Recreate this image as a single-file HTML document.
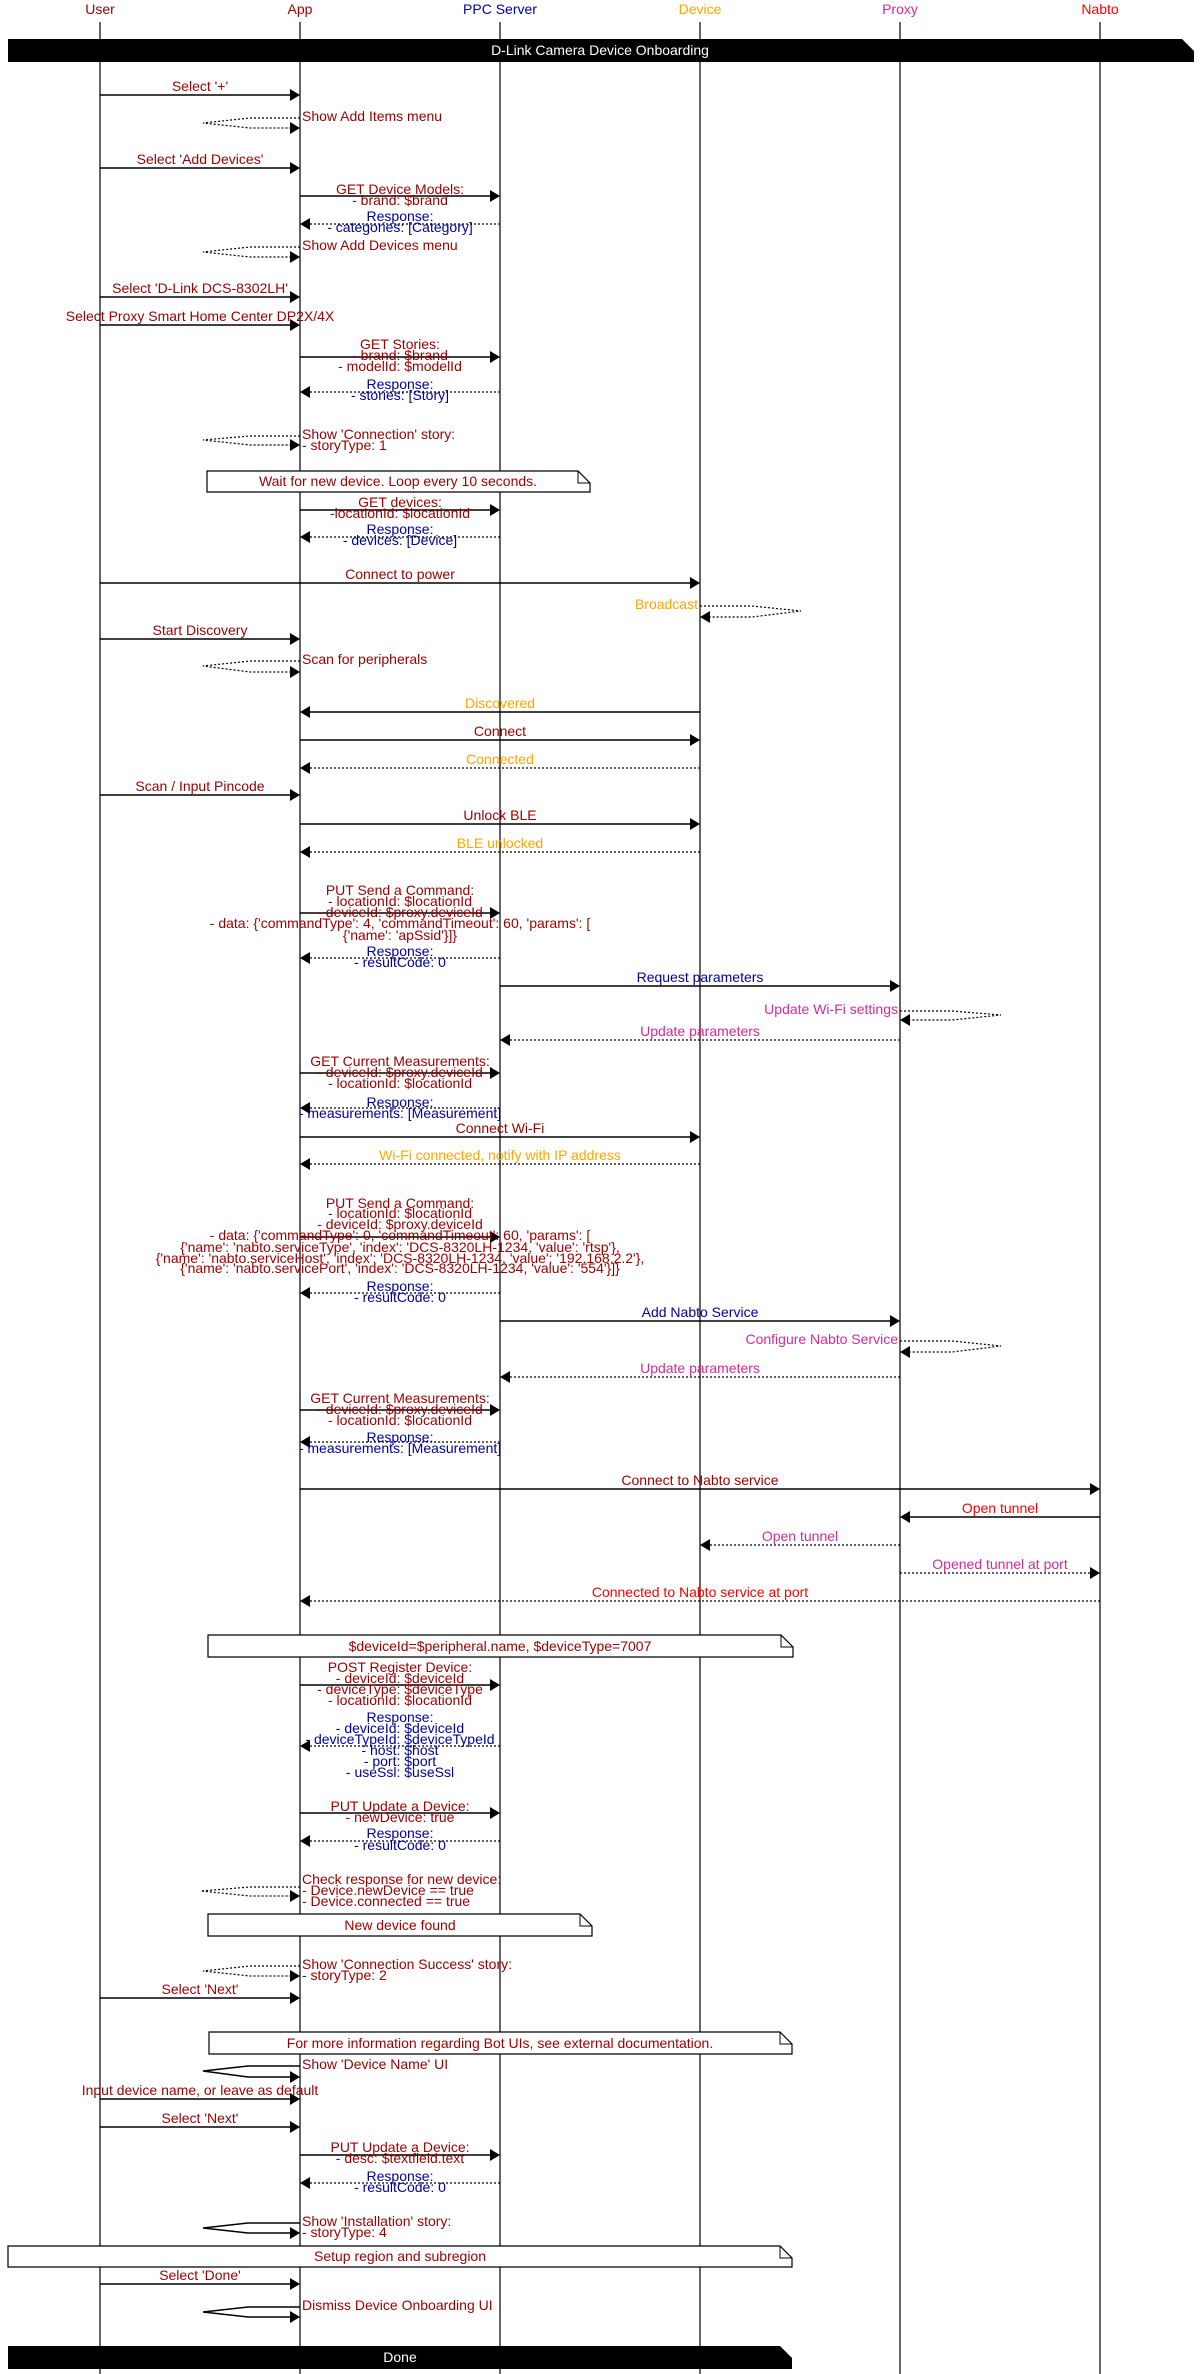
<!DOCTYPE html>
<html><head><meta charset="utf-8"><style>
html,body{margin:0;padding:0;background:#fff}
svg{display:block}
text{font-family:"Liberation Sans",sans-serif;font-size:14px}
.m{text-anchor:middle}.e{text-anchor:end}
.R{fill:#990000}.N{fill:#000099}.O{fill:#ffa500}.P{fill:#d42a9b}.X{fill:#ff0000}.W{fill:#fff}
.s{stroke:#000;stroke-width:1.5;fill:none}
.d{stroke:#000;stroke-width:1.2;fill:none;stroke-dasharray:2,2}
.n{stroke:#000;stroke-width:1.2;fill:#fff}
</style></head><body>
<svg width="1200" height="2374" xmlns="http://www.w3.org/2000/svg">
<!-- headers -->
<text class="m R" x="100" y="14">User</text>
<text class="m R" x="300" y="14">App</text>
<text class="m N" x="500" y="14">PPC Server</text>
<text class="m O" x="700" y="14">Device</text>
<text class="m P" x="900" y="14">Proxy</text>
<text class="m X" x="1100" y="14">Nabto</text>
<g stroke="#000" stroke-width="1.2">
<line x1="100" y1="22" x2="100" y2="2374"/><line x1="300" y1="22" x2="300" y2="2374"/>
<line x1="500" y1="22" x2="500" y2="2374"/><line x1="700" y1="22" x2="700" y2="2374"/>
<line x1="900" y1="22" x2="900" y2="2374"/><line x1="1100" y1="22" x2="1100" y2="2374"/>
</g>
<polygon points="8,39 1182,39 1194,51 1194,62 8,62" fill="#000"/>
<text class="m W" x="600" y="55">D-Link Camera Device Onboarding</text>

<!-- 1 -->
<line class="s" x1="100" y1="95" x2="292" y2="95"/><polygon points="290,89 300,95 290,101"/>
<text class="m R" x="200" y="91">Select '+'</text>
<!-- 2 self -->
<path class="d" d="M300,118 H250 L203,123 L250,128 H292"/><polygon points="290,122 300,128 290,134"/>
<text class="R" x="302" y="121">Show Add Items menu</text>
<!-- 3 -->
<line class="s" x1="100" y1="168" x2="292" y2="168"/><polygon points="290,162 300,168 290,174"/>
<text class="m R" x="200" y="164">Select 'Add Devices'</text>
<!-- 4 -->
<line class="s" x1="300" y1="196" x2="492" y2="196"/><polygon points="490,190 500,196 490,202"/>
<text class="m R" x="400" y="194">GET Device Models:</text><text class="m R" x="400" y="205">- brand: $brand</text>
<!-- 5 -->
<line class="d" x1="500" y1="224" x2="308" y2="224"/><polygon points="310,218 300,224 310,230"/>
<text class="m N" x="400" y="221">Response:</text><text class="m N" x="400" y="232">- categories: [Category]</text>
<!-- 6 -->
<path class="d" d="M300,247 H250 L203,252 L250,257 H292"/><polygon points="290,251 300,257 290,263"/>
<text class="R" x="302" y="250">Show Add Devices menu</text>
<!-- 7 -->
<line class="s" x1="100" y1="297" x2="292" y2="297"/><polygon points="290,291 300,297 290,303"/>
<text class="m R" x="200" y="293">Select 'D-Link DCS-8302LH'</text>
<!-- 8 -->
<line class="s" x1="100" y1="325" x2="292" y2="325"/><polygon points="290,319 300,325 290,331"/>
<text class="m R" x="200" y="321">Select Proxy Smart Home Center DP2X/4X</text>
<!-- 9 -->
<line class="s" x1="300" y1="357" x2="492" y2="357"/><polygon points="490,351 500,357 490,363"/>
<text class="m R" x="400" y="349">GET Stories:</text><text class="m R" x="400" y="360">- brand: $brand</text><text class="m R" x="400" y="371">- modelId: $modelId</text>
<!-- 10 -->
<line class="d" x1="500" y1="392" x2="308" y2="392"/><polygon points="310,386 300,392 310,398"/>
<text class="m N" x="400" y="389">Response:</text><text class="m N" x="400" y="400">- stories: [Story]</text>
<!-- 11 -->
<path class="d" d="M300,436 H250 L203,440 L250,445 H292"/><polygon points="290,439 300,445 290,451"/>
<text class="R" x="302" y="439">Show 'Connection' story:</text><text class="R" x="302" y="450">- storyType: 1</text>
<!-- 12 note -->
<path class="n" d="M207,471 H578 L590,483 V492 H207 Z"/><path class="s" style="stroke-width:1" d="M578,471 V483 H590"/>
<text class="m R" x="398" y="486">Wait for new device. Loop every 10 seconds.</text>
<!-- 13 -->
<line class="s" x1="300" y1="510" x2="492" y2="510"/><polygon points="490,504 500,510 490,516"/>
<text class="m R" x="400" y="507">GET devices:</text><text class="m R" x="400" y="518">-locationId: $locationId</text>
<!-- 14 -->
<line class="d" x1="500" y1="537" x2="308" y2="537"/><polygon points="310,531 300,537 310,543"/>
<text class="m N" x="400" y="534">Response:</text><text class="m N" x="400" y="545">- devices: [Device]</text>
<!-- 15 -->
<line class="s" x1="100" y1="583" x2="692" y2="583"/><polygon points="690,577 700,583 690,589"/>
<text class="m R" x="400" y="579">Connect to power</text>
<!-- 16 -->
<path class="d" d="M700,606 H752 L801,611 L752,617 H708"/><polygon points="710,611 700,617 710,623"/>
<text class="e O" x="698" y="609">Broadcast</text>
<!-- 17 -->
<line class="s" x1="100" y1="639" x2="292" y2="639"/><polygon points="290,633 300,639 290,645"/>
<text class="m R" x="200" y="635">Start Discovery</text>
<!-- 18 -->
<path class="d" d="M300,661 H250 L203,666 L250,672 H292"/><polygon points="290,666 300,672 290,678"/>
<text class="R" x="302" y="664">Scan for peripherals</text>
<!-- 19 -->
<line class="s" x1="700" y1="712" x2="308" y2="712"/><polygon points="310,706 300,712 310,718"/>
<text class="m O" x="500" y="708">Discovered</text>
<!-- 20 -->
<line class="s" x1="300" y1="740" x2="692" y2="740"/><polygon points="690,734 700,740 690,746"/>
<text class="m R" x="500" y="736">Connect</text>
<!-- 21 -->
<line class="d" x1="700" y1="768" x2="308" y2="768"/><polygon points="310,762 300,768 310,774"/>
<text class="m O" x="500" y="764">Connected</text>
<!-- 22 -->
<line class="s" x1="100" y1="795" x2="292" y2="795"/><polygon points="290,789 300,795 290,801"/>
<text class="m R" x="200" y="791">Scan / Input Pincode</text>
<!-- 23 -->
<line class="s" x1="300" y1="824" x2="692" y2="824"/><polygon points="690,818 700,824 690,830"/>
<text class="m R" x="500" y="820">Unlock BLE</text>
<!-- 24 -->
<line class="d" x1="700" y1="852" x2="308" y2="852"/><polygon points="310,846 300,852 310,858"/>
<text class="m O" x="500" y="848">BLE unlocked</text>
<!-- 25 -->
<line class="s" x1="300" y1="913" x2="492" y2="913"/><polygon points="490,907 500,913 490,919"/>
<text class="m R" x="400" y="895">PUT Send a Command:</text>
<text class="m R" x="400" y="906">- locationId: $locationId</text>
<text class="m R" x="400" y="917">- deviceId: $proxy.deviceId</text>
<text class="m R" x="400" y="928">- data: {'commandType': 4, 'commandTimeout': 60, 'params': [</text>
<text class="m R" x="400" y="940">{'name': 'apSsid'}]}</text>
<!-- 26 -->
<line class="d" x1="500" y1="958" x2="308" y2="958"/><polygon points="310,952 300,958 310,964"/>
<text class="m N" x="400" y="956">Response:</text><text class="m N" x="400" y="967">- resultCode: 0</text>
<!-- 27 -->
<line class="s" x1="500" y1="986" x2="892" y2="986"/><polygon points="890,980 900,986 890,992"/>
<text class="m N" x="700" y="982">Request parameters</text>
<!-- 28 -->
<path class="d" d="M900,1011 H952 L1001,1015 L952,1020 H908"/><polygon points="910,1014 900,1020 910,1026"/>
<text class="e P" x="898" y="1014">Update Wi-Fi settings</text>
<!-- 29 -->
<line class="d" x1="900" y1="1040" x2="508" y2="1040"/><polygon points="510,1034 500,1040 510,1046"/>
<text class="m P" x="700" y="1036">Update parameters</text>
<!-- 30 -->
<line class="s" x1="300" y1="1073" x2="492" y2="1073"/><polygon points="490,1067 500,1073 490,1079"/>
<text class="m R" x="400" y="1066">GET Current Measurements:</text><text class="m R" x="400" y="1077">- deviceId: $proxy.deviceId</text><text class="m R" x="400" y="1088">- locationId: $locationId</text>
<!-- 31 -->
<line class="d" x1="500" y1="1108" x2="308" y2="1108"/><polygon points="310,1102 300,1108 310,1114"/>
<text class="m N" x="400" y="1107">Response:</text><text class="m N" x="400" y="1118">- measurements: [Measurement]</text>
<!-- 32 -->
<line class="s" x1="300" y1="1137" x2="692" y2="1137"/><polygon points="690,1131 700,1137 690,1143"/>
<text class="m R" x="500" y="1133">Connect Wi-Fi</text>
<!-- 33 -->
<line class="d" x1="700" y1="1164" x2="308" y2="1164"/><polygon points="310,1158 300,1164 310,1170"/>
<text class="m O" x="500" y="1160">Wi-Fi connected, notify with IP address</text>
<!-- 34 -->
<line class="s" x1="300" y1="1237" x2="492" y2="1237"/><polygon points="490,1231 500,1237 490,1243"/>
<text class="m R" x="400" y="1208">PUT Send a Command:</text>
<text class="m R" x="400" y="1218">- locationId: $locationId</text>
<text class="m R" x="400" y="1229">- deviceId: $proxy.deviceId</text>
<text class="m R" x="400" y="1240">- data: {'commandType': 0, 'commandTimeout': 60, 'params': [</text>
<text class="m R" x="400" y="1252">{'name': 'nabto.serviceType', 'index': 'DCS-8320LH-1234, 'value': 'rtsp'},</text>
<text class="m R" x="400" y="1263">{'name': 'nabto.serviceHost', 'index': 'DCS-8320LH-1234, 'value': '192.168.2.2'},</text>
<text class="m R" x="400" y="1273">{'name': 'nabto.servicePort', 'index': 'DCS-8320LH-1234, 'value': '554'}]}</text>
<!-- 35 -->
<line class="d" x1="500" y1="1293" x2="308" y2="1293"/><polygon points="310,1287 300,1293 310,1299"/>
<text class="m N" x="400" y="1291">Response:</text><text class="m N" x="400" y="1302">- resultCode: 0</text>
<!-- 36 -->
<line class="s" x1="500" y1="1321" x2="892" y2="1321"/><polygon points="890,1315 900,1321 890,1327"/>
<text class="m N" x="700" y="1317">Add Nabto Service</text>
<!-- 37 -->
<path class="d" d="M900,1341 H952 L1001,1346 L952,1352 H908"/><polygon points="910,1346 900,1352 910,1358"/>
<text class="e P" x="898" y="1344">Configure Nabto Service</text>
<!-- 38 -->
<line class="d" x1="900" y1="1377" x2="508" y2="1377"/><polygon points="510,1371 500,1377 510,1383"/>
<text class="m P" x="700" y="1373">Update parameters</text>
<!-- 39 -->
<line class="s" x1="300" y1="1410" x2="492" y2="1410"/><polygon points="490,1404 500,1410 490,1416"/>
<text class="m R" x="400" y="1403">GET Current Measurements:</text><text class="m R" x="400" y="1414">- deviceId: $proxy.deviceId</text><text class="m R" x="400" y="1425">- locationId: $locationId</text>
<!-- 40 -->
<line class="d" x1="500" y1="1442" x2="308" y2="1442"/><polygon points="310,1436 300,1442 310,1448"/>
<text class="m N" x="400" y="1442">Response:</text><text class="m N" x="400" y="1453">- measurements: [Measurement]</text>
<!-- 41 -->
<line class="s" x1="300" y1="1489" x2="1092" y2="1489"/><polygon points="1090,1483 1100,1489 1090,1495"/>
<text class="m R" x="700" y="1485">Connect to Nabto service</text>
<!-- 42 -->
<line class="s" x1="1100" y1="1517" x2="908" y2="1517"/><polygon points="910,1511 900,1517 910,1523"/>
<text class="m X" x="1000" y="1513">Open tunnel</text>
<!-- 43 -->
<line class="d" x1="900" y1="1545" x2="708" y2="1545"/><polygon points="710,1539 700,1545 710,1551"/>
<text class="m P" x="800" y="1541">Open tunnel</text>
<!-- 44 -->
<line class="d" x1="900" y1="1573" x2="1092" y2="1573"/><polygon points="1090,1567 1100,1573 1090,1579"/>
<text class="m P" x="1000" y="1569">Opened tunnel at port</text>
<!-- 45 -->
<line class="d" x1="1100" y1="1601" x2="308" y2="1601"/><polygon points="310,1595 300,1601 310,1607"/>
<text class="m X" x="700" y="1597">Connected to Nabto service at port</text>
<!-- 46 note -->
<path class="n" d="M208,1635 H781 L793,1647 V1657 H208 Z"/><path class="s" style="stroke-width:1" d="M781,1635 V1647 H793"/>
<text class="m R" x="500" y="1651">$deviceId=$peripheral.name, $deviceType=7007</text>
<!-- 47 -->
<line class="s" x1="300" y1="1685" x2="492" y2="1685"/><polygon points="490,1679 500,1685 490,1691"/>
<text class="m R" x="400" y="1672">POST Register Device:</text><text class="m R" x="400" y="1683">- deviceId: $deviceId</text><text class="m R" x="400" y="1694">- deviceType: $deviceType</text><text class="m R" x="400" y="1705">- locationId: $locationId</text>
<!-- 48 -->
<line class="d" x1="500" y1="1746" x2="308" y2="1746"/><polygon points="310,1740 300,1746 310,1752"/>
<text class="m N" x="400" y="1722">Response:</text><text class="m N" x="400" y="1733">- deviceId: $deviceId</text><text class="m N" x="400" y="1744">- deviceTypeId: $deviceTypeId</text><text class="m N" x="400" y="1755">- host: $host</text><text class="m N" x="400" y="1766">- port: $port</text><text class="m N" x="400" y="1777">- useSsl: $useSsl</text>
<!-- 49 -->
<line class="s" x1="300" y1="1813" x2="492" y2="1813"/><polygon points="490,1807 500,1813 490,1819"/>
<text class="m R" x="400" y="1811">PUT Update a Device:</text><text class="m R" x="400" y="1822">- newDevice: true</text>
<!-- 50 -->
<line class="d" x1="500" y1="1841" x2="308" y2="1841"/><polygon points="310,1835 300,1841 310,1847"/>
<text class="m N" x="400" y="1838">Response:</text><text class="m N" x="400" y="1850">- resultCode: 0</text>
<!-- 51 -->
<path class="d" d="M300,1887 H250 L201,1891 L250,1896 H292"/><polygon points="290,1890 300,1896 290,1902"/>
<text class="R" x="302" y="1884">Check response for new device:</text><text class="R" x="302" y="1895">- Device.newDevice == true</text><text class="R" x="302" y="1906">- Device.connected == true</text>
<!-- 52 note -->
<path class="n" d="M208,1914 H580 L592,1926 V1936 H208 Z"/><path class="s" style="stroke-width:1" d="M580,1914 V1926 H592"/>
<text class="m R" x="400" y="1930">New device found</text>
<!-- 53 -->
<path class="d" d="M300,1966 H250 L203,1971 L250,1976 H292"/><polygon points="290,1970 300,1976 290,1982"/>
<text class="R" x="302" y="1969">Show 'Connection Success' story:</text><text class="R" x="302" y="1980">- storyType: 2</text>
<!-- 54 -->
<line class="s" x1="100" y1="1998" x2="292" y2="1998"/><polygon points="290,1992 300,1998 290,2004"/>
<text class="m R" x="200" y="1994">Select 'Next'</text>
<!-- 55 note -->
<path class="n" d="M209,2032 H780 L792,2044 V2054 H209 Z"/><path class="s" style="stroke-width:1" d="M780,2032 V2044 H792"/>
<text class="m R" x="500" y="2048">For more information regarding Bot UIs, see external documentation.</text>
<!-- 56 -->
<path class="s" d="M300,2066 H248 L203,2071 L248,2077 H292"/><polygon points="290,2071 300,2077 290,2083"/>
<text class="R" x="302" y="2069">Show 'Device Name' UI</text>
<!-- 57 -->
<line class="s" x1="100" y1="2099" x2="292" y2="2099"/><polygon points="290,2093 300,2099 290,2105"/>
<text class="m R" x="200" y="2095">Input device name, or leave as default</text>
<!-- 58 -->
<line class="s" x1="100" y1="2127" x2="292" y2="2127"/><polygon points="290,2121 300,2127 290,2133"/>
<text class="m R" x="200" y="2123">Select 'Next'</text>
<!-- 59 -->
<line class="s" x1="300" y1="2155" x2="492" y2="2155"/><polygon points="490,2149 500,2155 490,2161"/>
<text class="m R" x="400" y="2152">PUT Update a Device:</text><text class="m R" x="400" y="2163">- desc: $textfield.text</text>
<!-- 60 -->
<line class="d" x1="500" y1="2183" x2="308" y2="2183"/><polygon points="310,2177 300,2183 310,2189"/>
<text class="m N" x="400" y="2181">Response:</text><text class="m N" x="400" y="2192">- resultCode: 0</text>
<!-- 61 -->
<path class="s" d="M300,2223 H248 L203,2228 L248,2233 H292"/><polygon points="290,2227 300,2233 290,2239"/>
<text class="R" x="302" y="2226">Show 'Installation' story:</text><text class="R" x="302" y="2237">- storyType: 4</text>
<!-- 62 note -->
<path class="n" d="M8,2246 H780 L792,2258 V2267 H8 Z"/><path class="s" style="stroke-width:1" d="M780,2246 V2258 H792"/>
<text class="m R" x="400" y="2261">Setup region and subregion</text>
<!-- 63 -->
<line class="s" x1="100" y1="2284" x2="292" y2="2284"/><polygon points="290,2278 300,2284 290,2290"/>
<text class="m R" x="200" y="2280">Select 'Done'</text>
<!-- 64 -->
<path class="s" d="M300,2307 H248 L203,2312 L248,2317 H292"/><polygon points="290,2311 300,2317 290,2323"/>
<text class="R" x="302" y="2310">Dismiss Device Onboarding UI</text>
<!-- 65 -->
<polygon points="8,2346 780,2346 792,2358 792,2369 8,2369" fill="#000"/>
<text class="m W" x="400" y="2362">Done</text>
</svg>
</body></html>
